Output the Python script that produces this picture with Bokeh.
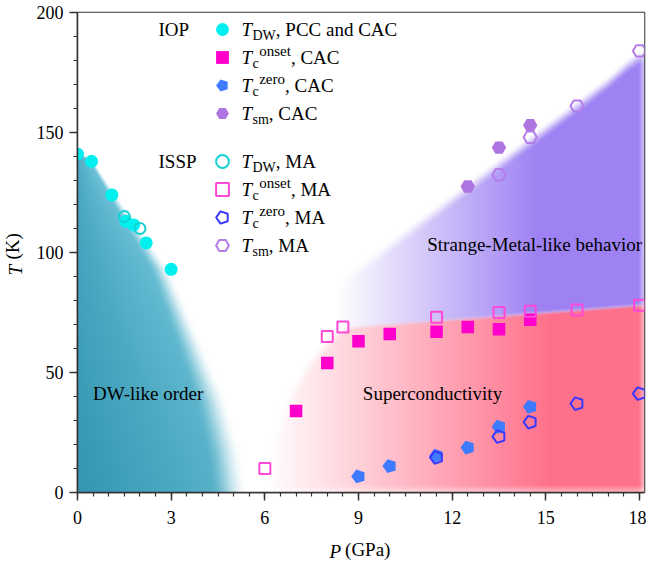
import numpy as np
from bokeh.plotting import figure
from bokeh.models import Range1d, Label, Legend, LegendItem, FixedTicker
from bokeh.embed import file_html
from bokeh.resources import INLINE

# ---------------- data ----------------
tdw_cac_P = [0.0, 0.45, 1.1, 1.55, 1.8, 2.2, 3.0]
tdw_cac_T = [141, 138, 124, 113, 111.5, 104, 93]
tdw_ma_P = [1.5, 2.0]
tdw_ma_T = [115, 110]
tcon_cac_P = [7, 8, 9, 10, 11.5, 12.5, 13.5, 14.5]
tcon_cac_T = [34, 54, 63, 66, 67, 69, 68, 72]
tcon_ma_P = [6, 8, 8.5, 11.5, 13.5, 14.5, 16, 18]
tcon_ma_T = [10, 65, 69, 73, 75, 75.5, 76, 78]
tczero_cac_P = [9, 10, 11.5, 12.5, 13.5, 14.5]
tczero_cac_T = [6.7, 11, 15.3, 18.7, 27.4, 35.7]
tczero_ma_P = [11.5, 13.5, 14.5, 16, 18]
tczero_ma_T = [14.6, 23.3, 29.3, 37, 41.2]
tsm_cac_P = [12.5, 13.5, 14.5]
tsm_cac_T = [127.5, 143.7, 153]
tsm_ma_P = [13.5, 14.5, 16, 18]
tsm_ma_T = [132.4, 148, 161, 184]

x_ticks = [0, 3, 6, 9, 12, 15, 18]
y_ticks = [0, 50, 100, 150, 200]

# phase-region boundaries
dw_edge_T = [0, 17, 38, 61, 89, 93, 104, 112, 124, 138, 142]
dw_edge_P = [5.45, 5.25, 4.8, 4.05, 3.1, 2.95, 2.35, 1.9, 1.25, 0.5, 0.0]
sc_top_P = [6.0, 8.0, 18.2]
sc_top_T = [66, 68, 78.2]
sc_left_T = [0, 20, 40, 55, 65, 70]
sc_left_P = [5.9, 6.1, 6.6, 7.3, 8.0, 8.6]
sm_edge_P = [8.5, 12.5, 16.0, 17.0, 17.6, 18.0, 18.2]
sm_edge_T = [91, 130, 164, 174, 181, 184.5, 185.5]

# ---------------- layout ----------------
W, H = 646, 564
BL, BR, BT, BB = 77, 2, 12, 72
FW, FH = W - BL - BR, H - BT - BB
X_END = 18.16
FL, FT = BL, BT
FB = FT + FH
SERIF = "Liberation Serif"

p = figure(width=W, height=H, x_range=Range1d(0, X_END), y_range=Range1d(0, 200),
           output_backend="svg", toolbar_location=None,
           min_border_left=BL, min_border_right=BR, min_border_top=BT, min_border_bottom=BB)
p.grid.visible = False
p.outline_line_color = "#333333"
p.outline_line_width = 1.5
p.background_fill_color = "white"
p.border_fill_color = "white"

p.xaxis.ticker = FixedTicker(ticks=x_ticks, minor_ticks=list(np.arange(0, 18.01, 0.5)))
p.yaxis.ticker = FixedTicker(ticks=y_ticks, minor_ticks=list(np.arange(0, 200.1, 10)))
for ax in (p.xaxis[0], p.yaxis[0]):
    ax.major_label_text_font = SERIF
    ax.major_label_text_font_size = "18px"
    ax.major_label_text_color = "black"
    ax.axis_line_color = "#333333"
    ax.axis_line_width = 1.5
    ax.major_tick_line_color = "#333333"
    ax.minor_tick_line_color = "#333333"
    ax.major_tick_line_width = 1.5
    ax.minor_tick_line_width = 1.2
    ax.major_tick_out = 8
    ax.major_tick_in = 0
    ax.minor_tick_out = 4
    ax.minor_tick_in = 0
p.xaxis.major_label_standoff = 10
p.yaxis.major_label_standoff = 6

# ---------------- shaded phase regions (image) ----------------
def smooth(e0, e1, x):
    t = np.clip((x - e0) / (e1 - e0), 0, 1)
    return t * t * (3 - 2 * t)

nx, ny = FW, FH
Pg = (np.arange(nx) + 0.5) * X_END / nx
Tg = (np.arange(ny) + 0.5) * 200.0 / ny
P, T = np.meshgrid(Pg, Tg)
rgb = np.full((ny, nx, 3), 255.0)

def blend(rgb, col, a):
    col = np.asarray(col, dtype=float)
    if col.ndim == 1:
        col = col[None, None, :]
    return rgb * (1 - a[..., None]) + col * a[..., None]

TEAL_DARK = np.array([52, 150, 178.0])
TEAL_LIGHT = np.array([122, 204, 224.0])
PINK = [255, 112, 138]
PURPLE = [158, 130, 243]

Pe = np.interp(T, dw_edge_T, dw_edge_P)
u = P / np.maximum(Pe, 1e-6)
a_teal = (1 - smooth(0.78, 1.0, u)) * (T < dw_edge_T[-1])
tt = np.clip(0.6 * u + 0.35 * T / 142.0, 0, 1)[..., None]
teal_col = TEAL_DARK * (1 - tt) + TEAL_LIGHT * tt
rgb = blend(rgb, teal_col, a_teal)

Ttop = np.interp(P, sc_top_P, sc_top_T)
Pleft = np.interp(T, sc_left_T, sc_left_P)
rf = 1 - 0.5 * smooth(17.95, X_END, P)
m_sc = smooth(-1.2, 1.2, Ttop - T) * smooth(0, 0.5, P - Pleft)
s_sc = np.clip((P - 6.0) / 9.2, 0, 1)
a_pink = m_sc * s_sc * rf * (0.55 + 0.45 * smooth(0, 3.5, T))
rgb = blend(rgb, PINK, a_pink)

Tsm = np.interp(P, sm_edge_P, sm_edge_T)
m_sm = smooth(0, 7, Tsm - T) * smooth(-1.2, 1.2, T - Ttop)
q_sm = np.clip((P - 8.3) / 6.5, 0, 1)
a_purple = m_sm * q_sm * rf
rgb = blend(rgb, PURPLE, a_purple)

img = np.empty((ny, nx), dtype=np.uint32)
view = img.view(dtype=np.uint8).reshape((ny, nx, 4))
view[..., :3] = np.clip(rgb, 0, 255).astype(np.uint8)
view[..., 3] = 255
p.image_rgba(image=[img], x=0, y=0, dw=X_END, dh=200)

# ---------------- data markers ----------------
r_dw_cac = p.scatter(tdw_cac_P, tdw_cac_T, marker="circle", size=13,
                     fill_color="#00F0F0", line_color=None)
r_on_cac = p.scatter(tcon_cac_P, tcon_cac_T, marker="square", size=12.5,
                     fill_color="#FF00CC", line_color=None)
r_zero_cac = p.ngon(x=tczero_cac_P, y=tczero_cac_T, radius=7.3, radius_units="screen",
                    n=5, angle=np.pi / 2, fill_color="#3F7BFF", line_color=None)
r_sm_cac = p.ngon(x=tsm_cac_P, y=tsm_cac_T, radius=7.2, radius_units="screen",
                  n=6, angle=np.pi / 2, fill_color="#AE74E0", line_color=None)

r_dw_ma = p.scatter(tdw_ma_P, tdw_ma_T, marker="circle", size=11, fill_color=None,
                    line_color="#14D0D0", line_width=2)
r_on_ma = p.scatter(tcon_ma_P, tcon_ma_T, marker="square", size=11, fill_color=None,
                    line_color="#FF48D8", line_width=2)
r_zero_ma = p.ngon(x=tczero_ma_P, y=tczero_ma_T, radius=6.6, radius_units="screen",
                   n=5, angle=np.pi / 2, fill_color=None, line_color="#3838FF", line_width=2)
r_sm_ma = p.ngon(x=tsm_ma_P, y=tsm_ma_T, radius=6.6, radius_units="screen",
                 n=6, angle=np.pi / 2, fill_color=None, line_color="#B47DE8", line_width=2)

# ---------------- legends (one entry per legend, for free row spacing) ----------------
GH = 32
PITCH = 28
def legend_entry(renderer, cx_page, cy_page):
    vy = FB - (cy_page + GH / 2)
    vx = cx_page - GH / 2 - FL
    lg = Legend(items=[LegendItem(label="", renderers=[renderer])],
                location=(vx, vy), orientation="vertical",
                glyph_width=GH, glyph_height=GH, label_height=GH, label_width=0,
                spacing=0, padding=0, margin=0, label_standoff=0,
                border_line_alpha=0, background_fill_alpha=0)
    p.add_layout(lg)

LEG_X = 222
ROW1 = 29
ROW2 = 161
for i, r in enumerate([r_dw_cac, r_on_cac, r_zero_cac, r_sm_cac]):
    legend_entry(r, LEG_X, ROW1 + i * PITCH)
for i, r in enumerate([r_dw_ma, r_on_ma, r_zero_ma, r_sm_ma]):
    legend_entry(r, LEG_X, ROW2 + i * PITCH)

# ---------------- texts ----------------
TW = {' ': 250, ',': 250, 'A': 722, 'C': 667, 'D': 722, 'W': 944, 'M': 889, 'P': 556,
      'a': 444, 'c': 444, 'd': 500, 'e': 444, 'm': 778, 'n': 500, 'o': 500, 'r': 333,
      's': 389, 't': 278, 'z': 444}
def tw(s, size):
    return sum(TW.get(ch, 500) for ch in s) * size / 1000.0

def label(text, x_page, y_page, size=19, italic=False, align="left", angle=0.0):
    p.add_layout(Label(x=x_page - FL, y=FB - y_page, x_units="screen", y_units="screen",
                       text=text, text_font=SERIF, text_font_size=f"{size}px",
                       text_font_style="italic" if italic else "normal",
                       text_color="black", text_align=align, text_baseline="middle",
                       angle=angle))

SUB, SUP = 14, 15
def legend_row(x0, yc, sub, sup, rest):
    label("T", x0, yc, italic=True)
    xs = x0 + 11
    label(sub, xs, yc + 6, size=SUB)
    end = xs + tw(sub, SUB)
    if sup:
        label(sup, end + 0.5, yc - 7, size=SUP)
        end = end + 0.5 + tw(sup, SUP)
    label(rest, end, yc)

TX = 241
label("IOP", 158, ROW1)
label("ISSP", 158, ROW2)
rows_iop = [("DW", None, ", PCC and CAC"), ("c", "onset", ", CAC"),
            ("c", "zero", ", CAC"), ("sm", None, ", CAC")]
rows_issp = [("DW", None, ",  MA"), ("c", "onset", ", MA"),
             ("c", "zero", ", MA"), ("sm", None, ", MA")]
for i, (sb, sp, rest) in enumerate(rows_iop):
    legend_row(TX, ROW1 + i * PITCH, sb, sp, rest)
for i, (sb, sp, rest) in enumerate(rows_issp):
    legend_row(TX, ROW2 + i * PITCH, sb, sp, rest)

# region names (data coordinates)
for txt, xx, yy, al in [("DW-like order", 0.5, 41.3, "left"),
                        ("Superconductivity", 11.37, 41.3, "center"),
                        ("Strange-Metal-like behavior", 18.08, 103.3, "right")]:
    p.add_layout(Label(x=xx, y=yy, text=txt, text_font=SERIF, text_font_size="19px",
                       text_color="black", text_align=al, text_baseline="middle"))

# axis titles, placed in the side panels so that they are not clipped by the frame
def T_of(y_page):
    return (FB - y_page) * 200.0 / FH

def P_of(x_page):
    return (x_page - FL) * X_END / FW

ax_font = dict(text_font=SERIF, text_font_size="19px", text_color="black",
               text_baseline="middle")
p.add_layout(Label(text="T", x=15 - FL, y=T_of(275), x_units="screen", y_units="data",
                   angle=np.pi / 2, text_align="left", text_font_style="italic",
                   **ax_font), "above")
p.add_layout(Label(text="P", x=P_of(329), y=FB - 551, x_units="data", y_units="screen",
                   text_align="left", text_font_style="italic", **ax_font), "left")
p.add_layout(Label(text="(K)", x=12, y=T_of(259), x_units="screen", y_units="data",
                   angle=np.pi / 2, text_align="left", **ax_font), "left")
p.add_layout(Label(text="(GPa)", x=P_of(329 + tw("P", 19) + 5), y=-2, x_units="data",
                   y_units="screen", text_align="left", **ax_font), "below")

open("out.html", "w").write(file_html(p, INLINE))
